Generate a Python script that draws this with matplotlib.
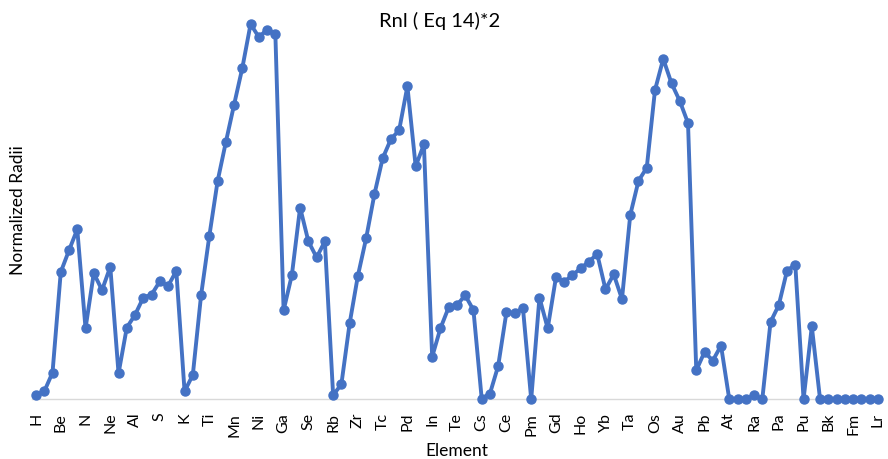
import matplotlib
matplotlib.use("Agg")
import matplotlib.pyplot as plt

elements = [
    "H", "He", "Li", "Be", "B", "C", "N", "O", "F", "Ne",
    "Na", "Mg", "Al", "Si", "P", "S", "Cl", "Ar", "K", "Ca",
    "Sc", "Ti", "V", "Cr", "Mn", "Fe", "Co", "Ni", "Cu", "Zn",
    "Ga", "Ge", "As", "Se", "Br", "Kr", "Rb", "Sr", "Y", "Zr",
    "Nb", "Mo", "Tc", "Ru", "Rh", "Pd", "Ag", "Cd", "In", "Sn",
    "Sb", "Te", "I", "Xe", "Cs", "Ba", "La", "Ce", "Pr", "Nd",
    "Pm", "Sm", "Eu", "Gd", "Tb", "Dy", "Ho", "Er", "Tm", "Yb",
    "Lu", "Hf", "Ta", "W", "Re", "Os", "Ir", "Pt", "Au", "Hg",
    "Tl", "Pb", "Bi", "Po", "At", "Rn", "Fr", "Ra", "Ac", "Th",
    "Pa", "U", "Np", "Pu", "Am", "Cm", "Bk", "Cf", "Es", "Fm",
    "Md", "No", "Lr",
]

radii = [
    0.011, 0.021, 0.071, 0.339, 0.397, 0.453, 0.189, 0.336, 0.291, 0.353,
    0.069, 0.191, 0.225, 0.271, 0.279, 0.314, 0.302, 0.342, 0.021, 0.065,
    0.277, 0.435, 0.581, 0.685, 0.785, 0.883, 1.000, 0.965, 0.985, 0.974,
    0.237, 0.331, 0.511, 0.421, 0.378, 0.421, 0.011, 0.040, 0.202, 0.329,
    0.429, 0.546, 0.642, 0.693, 0.717, 0.834, 0.621, 0.679, 0.113, 0.189,
    0.245, 0.251, 0.277, 0.238, 0.002, 0.015, 0.089, 0.232, 0.230, 0.243,
    0.000, 0.271, 0.189, 0.325, 0.313, 0.331, 0.349, 0.367, 0.387, 0.293,
    0.333, 0.267, 0.491, 0.582, 0.617, 0.824, 0.907, 0.842, 0.795, 0.736,
    0.077, 0.126, 0.103, 0.143, 0.000, 0.000, 0.000, 0.011, 0.000, 0.206,
    0.251, 0.343, 0.359, 0.000, 0.194, 0.000, 0.000, 0.000, 0.000, 0.000,
    0.000, 0.000, 0.000,
]

title = "Rnl ( Eq 14)*2"
x_title = "Element"
y_title = "Normalized Radii"

font = ["Lato", "DejaVu Sans"]
plt.rcParams["font.family"] = font

fig = plt.figure(figsize=(8.88, 4.60), dpi=100)
ax = fig.add_axes([0.0359, 0.1298, 0.9573, 0.8267])

x = list(range(len(elements)))
ax.plot(x, radii, color="#4472C4", linewidth=2.8, marker="o",
        markersize=6.5, markerfacecolor="#4472C4", markeredgecolor="#4472C4",
        solid_joinstyle="round", zorder=3, clip_on=False)

ax.set_xlim(-0.5, len(elements) - 0.5)
ax.set_ylim(0, 1.0133)

tick_pos = x[::3]
ax.set_xticks(tick_pos)
ax.set_xticklabels(elements[::3], rotation=90, fontsize=11.5, color="#000000")
ax.tick_params(axis="x", length=0, pad=9)
ax.set_yticks([])

for side in ("top", "right", "left"):
    ax.spines[side].set_visible(False)
ax.spines["bottom"].set_color("#D9D9D9")
ax.spines["bottom"].set_linewidth(1.0)
ax.spines["bottom"].set_zorder(1)

ax.set_xlabel(x_title, fontsize=12.5, labelpad=5)
ax.set_ylabel(y_title, fontsize=12.5, labelpad=4)
fig.text(0.495, 0.955, title, ha="center", va="center", fontsize=14.5)

fig.savefig("out.png", dpi=100)
